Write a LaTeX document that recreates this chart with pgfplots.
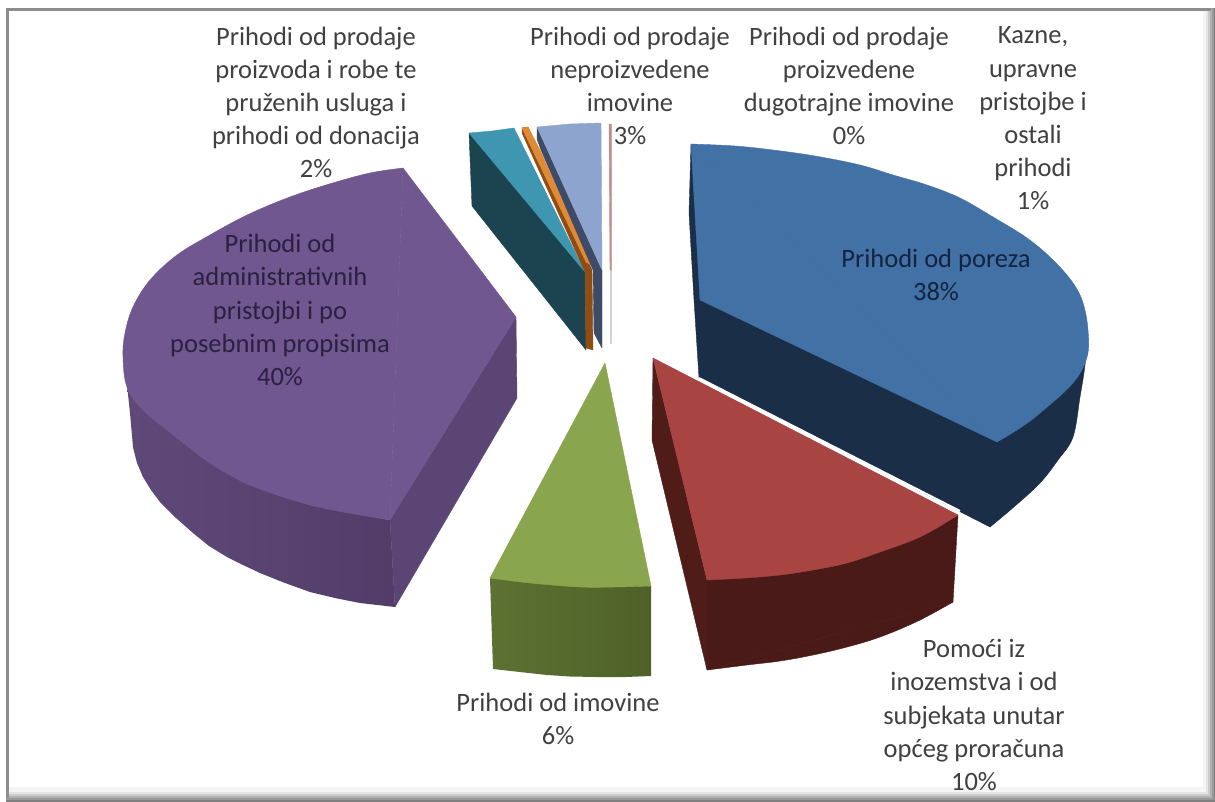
\documentclass[border=0pt]{standalone}
\usepackage{pgfplots}
\pgfplotsset{compat=1.18}
\usepackage{fontspec}
\setmainfont{Carlito}
\definecolor{tx}{HTML}{404040}
\definecolor{TxtB}{HTML}{14233F}
\definecolor{TxtP}{HTML}{2B2040}
\definecolor{PurpT}{HTML}{70578F}
\definecolor{PurpS}{HTML}{5A4575}
\definecolor{PurpL}{HTML}{5E4979}
\definecolor{PurpF}{HTML}{523D69}
\definecolor{TealT}{HTML}{3F96B0}
\definecolor{TealS}{HTML}{1C4350}
\definecolor{OrangeT}{HTML}{E08A35}
\definecolor{BrownS}{HTML}{8F4C14}
\definecolor{LBT}{HTML}{8CA4CE}
\definecolor{LBS}{HTML}{3E4B66}
\definecolor{PinkT}{HTML}{BC8E90}
\definecolor{PinkS}{HTML}{D8D0D0}
\definecolor{BlueT}{HTML}{4271A6}
\definecolor{BlueS}{HTML}{1B2E48}
\definecolor{RedT}{HTML}{A84442}
\definecolor{RedF}{HTML}{4A1A18}
\definecolor{RedL}{HTML}{4F1C18}
\definecolor{GreenT}{HTML}{89A54E}
\definecolor{GreenL}{HTML}{5D7133}
\definecolor{GreenS}{HTML}{4F6128}
\newcommand{\poly}[2]{\addplot[fill=#1,draw=#1,line width=0.4pt,line join=round,no marks] coordinates {#2} --cycle;}
\newcommand{\spoly}[2]{\addplot[smooth,tension=0.6,fill=#1,draw=#1,line width=0.4pt,line join=round,no marks] coordinates {#2} --cycle;}
\newcommand{\lab}[4][tx]{\node[align=center,text=#1,font=\fontsize{26.5}{33.2}\selectfont,inner sep=0pt] at (axis cs:#2,#3) {#4};}
\begin{document}
\begin{tikzpicture}
\begin{axis}[width=1215pt,height=801pt,scale only axis,hide axis,xmin=0,xmax=1215,ymin=0,ymax=801,y dir=reverse,enlargelimits=false]
% page extent
\addplot[fill=white,draw=none,no marks] coordinates {(0,0)(1215,0)(1215,801)(0,801)} --cycle;
% shadow frame
\poly{black!50}{(1210,8)(1215,8)(1215,801)(6,801)(6,797)(1210,797)}
\poly{black!40}{(1208,8)(1213,8)(1213,799)(6,799)(6,795)(1208,795)}
\poly{black!30}{(1206,8)(1211,8)(1211,797)(6,797)(6,793)(1206,793)}
\poly{black!20}{(1205,9)(1209,9)(1209,795)(6,795)(6,791)(1205,791)}
\poly{black!10}{(1204,10)(1207,10)(1207,793)(8,793)(8,789)(1204,789)}
\poly{black!4}{(1203,10)(1205,10)(1205,791)(8,791)(8,787)(1203,787)}
\poly{black!45}{(6,8)(1210,8)(1210,10)(8,10)(8,797)(6,797)}
% purple
\addplot[left color=PurpL,right color=PurpF,draw=none,no marks] coordinates {(127,385)(130,413)(133,447)(137,463)(143,477)(151,490)(160,502)(176,518)(193,533)(209,546)(227,557)(243,565)(260,573)(285,583)(310,592)(335,598)(360,603)(395,607)(390,520)(310,505)(243,482)(177,438)} --cycle;
\poly{PurpS}{(516,317)(517,398)(395,607)(390,520)}
\spoly{PurpT}{(403,168)(375,172)(350,178)(310,190)(277,202)(243,217)(210,235)(177,255)(150,280)(133,307)(125,333)(123,357)(127,387)(143,410)(177,438)(210,463)(243,482)(277,495)(310,505)(343,512)(390,520)}
\poly{PurpT}{(403,168)(516,317)(390,520)}
% teal
\poly{TealS}{(469,133)(472,206)(586,350)(585,272)}
\poly{TealT}{(469,133)(492,131)(514,128)(585,272)}
% orange
\poly{BrownS}{(522,133)(585,272)(586,348)(593,350)(592,270)(528,127)(522,128)}
\poly{OrangeT}{(522,128)(528,127)(540,150)(591,265)(586,262)}
% light blue
\poly{LBS}{(537,127)(537,139)(541,150)(593,270)(594,333)(602,348)(602,270)}
\poly{LBT}{(537,127)(570,124)(601,123)(602,270)}
% pink
\poly{PinkS}{(610,270)(611.5,270)(611.5,343)(610,343)}
\poly{PinkT}{(609,124)(611.5,124)(611.5,270)(610,270)}
% blue
\poly{BlueS}{(691,144)(689,213)(694,300)(699,378)(990,527)(1087,340)}
\spoly{BlueS}{(1087,335)(1085,365)(1080,397)(1073,437)(1058,460)(1040,483)(1015,506)(990,527)}
\spoly{BlueT}{(691,144)(735,146)(773,150)(815,156)(860,165)(893,175)(927,185)(960,198)(993,217)(1027,238)(1053,260)(1073,283)(1083,303)(1088,330)(1087,357)(1073,383)(1040,413)(1020,428)(997,442)}
\poly{BlueT}{(691,144)(997,442)(700,300)}
% red
\addplot[draw=white,line width=2pt,no marks] coordinates {(699,378)(960,511)};
\poly{RedL}{(653,358)(652,440)(707,670)(707,580)}
\poly{RedF}{(707,580)(958,515)(953,602)(707,670)}
\spoly{RedF}{(953,602)(918,621)(880,637)(847,647)(813,655)(780,661)(747,665)(707,670)}
\spoly{RedT}{(958,515)(935,529)(913,540)(880,552)(847,563)(813,570)(780,575)(745,578)(707,580)}
\poly{RedT}{(653,358)(958,515)(707,580)}
% green
\addplot[left color=GreenL,right color=GreenS,draw=none,no marks] coordinates {(490,578)(651,586)(651,676)(625,677)(597,677)(570,676.5)(547,675)(520,672)(493,669)} --cycle;
\spoly{GreenT}{(490,578)(530,583)(580,587)(615,587)(651,586)}
\poly{GreenT}{(605,363)(651,586)(490,578)}
% labels
\lab{316}{102.5}{Prihodi od prodaje\\proizvoda i robe te\\pruženih usluga i\\prihodi od donacija\\2\%}
\lab{630}{86}{Prihodi od prodaje\\neproizvedene\\imovine\\3\%}
\lab{849}{86}{Prihodi od prodaje\\proizvedene\\dugotrajne imovine\\0\%}
\lab{1033}{118.5}{Kazne,\\upravne\\pristojbe i\\ostali\\prihodi\\1\%}
\lab[TxtB]{936}{275}{Prihodi od poreza\\38\%}
\lab[TxtP]{280}{310}{Prihodi od\\administrativnih\\pristojbi i po\\posebnim propisima\\40\%}
\lab{558}{719}{Prihodi od imovine\\6\%}
\lab{974}{715}{Pomoći iz\\inozemstva i od\\subjekata unutar\\općeg proračuna\\10\%}
\end{axis}
\end{tikzpicture}
\end{document}
